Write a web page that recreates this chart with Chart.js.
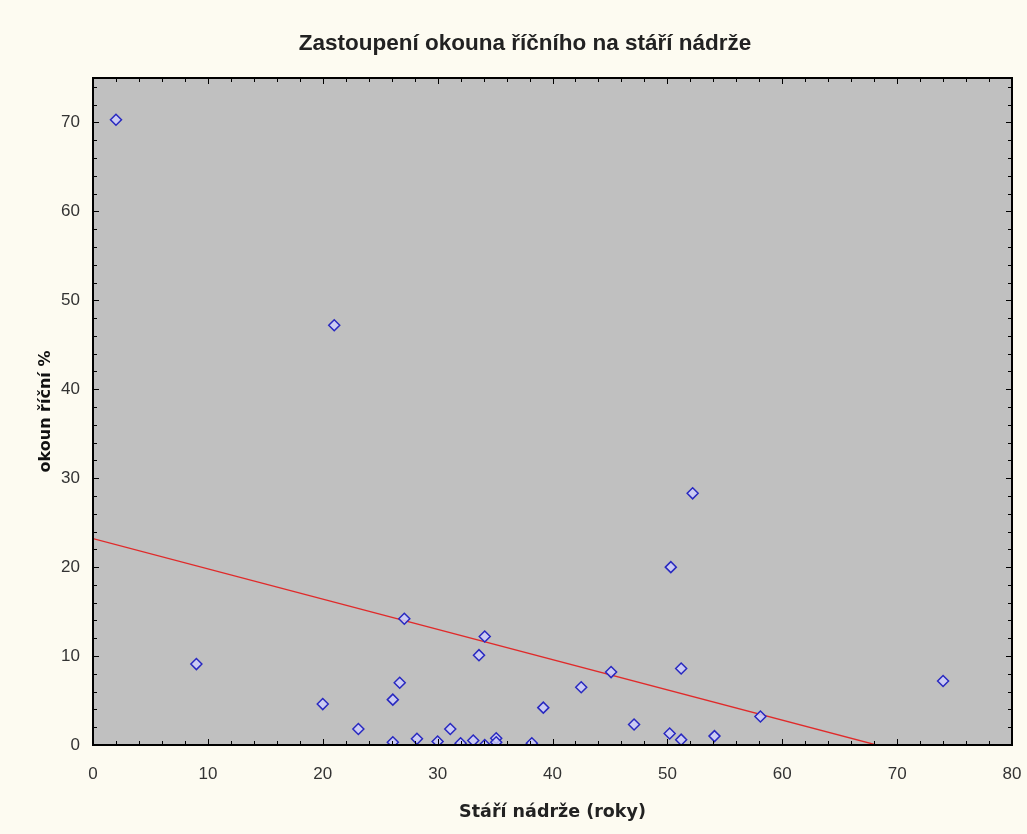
<!DOCTYPE html>
<html>
<head>
<meta charset="utf-8">
<script src="https://cdn.jsdelivr.net/npm/chart.js@4.4.1/dist/chart.umd.min.js"></script>
<style>
html,body{margin:0;padding:0;background:#fdfbf1;}
#wrap{width:1027px;height:834px;}
</style>
</head>
<body>
<div id="wrap"><canvas id="c" width="1027" height="834"></canvas></div>
<script>
const chartTitle = 'Zastoupení okouna říčního na stáří nádrže';
const xAxisTitle = 'Stáří nádrže (roky)';
const yAxisTitle = 'okoun říční %';
const ageYears = [2, 9, 21, 20, 23.1, 26.1, 26.7, 27.1, 26.1, 28.2, 30.0, 31.1, 32.0, 33.1, 34.1, 35.1, 35.1, 33.6, 34.1, 38.2, 39.2, 42.5, 45.1, 47.1, 50.2, 51.2, 51.2, 54.1, 58.1, 74.0, 50.3, 52.2];
const perchPct = [70.3, 9.1, 47.2, 4.6, 1.8, 5.1, 7.0, 14.2, 0.3, 0.7, 0.4, 1.8, 0.2, 0.5, 0.0, 0.75, 0.3, 10.1, 12.2, 0.2, 4.2, 6.5, 8.2, 2.3, 1.3, 0.6, 8.6, 1.0, 3.2, 7.2, 20.0, 28.3];
const fitX = [0, 68.2];
const fitY = [23.2, 0];

const tickFont = {family: "'Liberation Sans', Arial, sans-serif", size: 17};

const frame = {
  id: 'frame',
  beforeDraw(chart) {
    const {ctx, chartArea: a} = chart;
    ctx.save();
    ctx.fillStyle = '#c0c0c0';
    ctx.fillRect(a.left, a.top, a.right - a.left, a.bottom - a.top);
    ctx.restore();
  },
  afterDatasetsDraw(chart) {
    const {ctx, chartArea: a, scales} = chart;
    ctx.save();
    ctx.strokeStyle = '#000';
    ctx.lineWidth = 1;
    ctx.beginPath();
    for (let v = 0; v <= 80; v += 2) {
      const px = Math.round(scales.x.getPixelForValue(v)) + 0.5;
      const len = v % 10 === 0 ? 6 : 4;
      ctx.moveTo(px, a.bottom); ctx.lineTo(px, a.bottom - len);
      ctx.moveTo(px, a.top); ctx.lineTo(px, a.top + len);
    }
    for (let v = 0; v <= 74; v += 2) {
      const py = Math.round(scales.y.getPixelForValue(v)) + 0.5;
      const len = v % 10 === 0 ? 6 : 4;
      ctx.moveTo(a.left, py); ctx.lineTo(a.left + len, py);
      ctx.moveTo(a.right, py); ctx.lineTo(a.right - len, py);
    }
    ctx.stroke();
    ctx.lineWidth = 2;
    ctx.strokeRect(a.left, a.top, a.right - a.left, a.bottom - a.top);
    ctx.restore();
  }
};

new Chart(document.getElementById('c'), {
  type: 'scatter',
  data: {
    datasets: [
      {
        type: 'line',
        data: fitX.map((x, i) => ({x, y: fitY[i]})),
        borderColor: '#e02a2a',
        borderWidth: 1.3,
        pointRadius: 0,
        fill: false,
        order: 2
      },
      {
        data: ageYears.map((x, i) => ({x, y: perchPct[i]})),
        pointStyle: 'rectRot',
        pointRadius: 5.5,
        borderWidth: 1.5,
        borderColor: '#2828c0',
        backgroundColor: 'rgba(205,205,250,0.85)',
        order: 1
      }
    ]
  },
  plugins: [frame],
  options: {
    responsive: false,
    animation: false,
    layout: {padding: {left: 38, right: 15, top: 0, bottom: 0}},
    plugins: {
      legend: {display: false},
      tooltip: {enabled: false},
      title: {
        display: true,
        text: chartTitle,
        color: '#222',
        font: {family: "'Liberation Sans', Arial, sans-serif", size: 22.5, weight: 'bold'},
        padding: {top: 30, bottom: 21}
      }
    },
    scales: {
      x: {
        type: 'linear',
        min: 0, max: 80,
        afterFit(s) { s.height = 89; s.paddingRight = 0; s.paddingLeft = 0; },
        grid: {display: false, drawTicks: false},
        border: {display: false},
        ticks: {stepSize: 10, color: '#333', font: tickFont, padding: 19},
        title: {display: true, text: xAxisTitle, color: '#222',
          font: {family: "'DejaVu Sans', sans-serif", size: 17.5, weight: 'bold'}, padding: {top: 0, bottom: 11}}
      },
      y: {
        type: 'linear',
        min: 0, max: 75,
        afterFit(s) { s.width = 55; },
        afterBuildTicks(s) { s.ticks = s.ticks.filter(t => t.value % 10 === 0); },
        grid: {display: false, drawTicks: false},
        border: {display: false},
        ticks: {stepSize: 10, color: '#333', font: tickFont, padding: 13},
        title: {display: true, text: yAxisTitle, color: '#111',
          font: {family: "'DejaVu Sans', sans-serif", size: 16, weight: 'bold'}, padding: {top: -2, bottom: 0}}
      }
    }
  }
});
</script>
</body>
</html>
